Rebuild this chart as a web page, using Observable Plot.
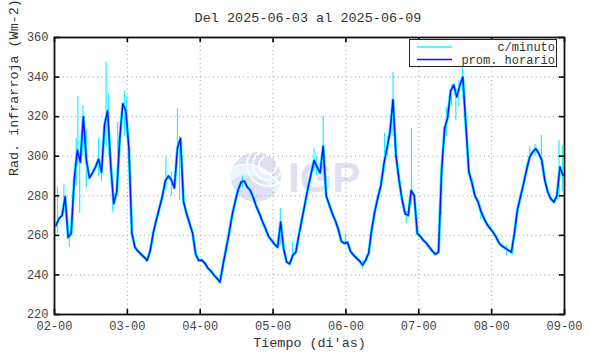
<!DOCTYPE html>
<html><head><meta charset="utf-8">
<script src="https://cdn.jsdelivr.net/npm/d3@7"></script>
<script src="https://cdn.jsdelivr.net/npm/@observablehq/plot@0.6"></script>
<style>
body{margin:0;background:#fff;}
#title{width:590px;height:30px;box-sizing:border-box;padding-left:26px;padding-top:11px;line-height:15px;font:13.5px "Liberation Mono",monospace;text-align:center;color:#333;}
#chart{position:relative;width:590px;}
</style></head><body>
<div id="title">Del 2025-06-03 al 2025-06-09</div>
<div id="chart"></div>
<script>
// ---- data ----
const dayLabels = ["02-00","03-00","04-00","05-00","06-00","07-00","08-00","09-00"];
const yTickValues = [220,240,260,280,300,320,340,360];
// hourly means ("prom. horario"), one per hour starting 02-00
const hourly = [
 265,268.5,270,279.5,259,261,288,303,297,320,298,289,291.5,294.5,298.5,292,316,323,296,276,282,309,326.5,323,
 304,261,254,252,250.5,249,247.3,252,261,267.5,273.5,279.5,287.5,290,288,284,304,309,277,271,266,261,250.5,247.3,
 247.5,246,243.5,242,240,238.3,236.4,245,253,261,270,277,283,287,287.5,284.4,282.7,279,274.5,271,267,263.5,259.5,257.5,
 255.5,254,266.7,253,246.5,245.6,250,251.5,260,268,276,284,291,297.8,294.5,291.5,305,280,275.5,271,267.5,263,257,256,
 256.5,252,250,248.5,247,245,247.5,251,263,272,279,285,296,304,312,328.5,300,288,278,271,270,282.7,280,261,
 259.5,257.5,256,254,252,250.5,251.5,292,314,319.5,333,336,330,335.7,340,316,292,286.5,280,277,272,268.5,265.5,263.5,
 261.5,259,256,254.5,253.5,252.5,251.5,261,273,279.5,286,293,299.5,302,303.8,301.5,298,288,281.8,278.5,276.8,280,294.5,290.3
];
// per-minute ("c/minuto") excursions: hour, low, high
const spikeHour = [1.0,3.1,4.9,7.2,7.7,8.3,9.4,10.5,14.5,15.5,17.0,17.8,19.1,20.8,23.1,23.7,
 36.7,38.5,40.5,41.2,61.9,74.4,78.4,85.5,86.3,88.5,95.8,101.5,108.7,109.7,111.5,115.9,117.6,127.5,
 129.1,130.8,132.2,133.2,134.4,137.8,140.4,148.9,151,156.5,158.3,160.4,165.6,166.2,167.3];
const spikeLow = [261,272,254,285,295,271,300,284,290,287,305,300,271.7,280,310,313,
 283,280,300,277.6,284,255,248,292,290,290,255,243,292,300,310,266,275,270,
 310,325,318,325,330,283,268,249.8,250,298,300,295,277.6,278,282];
const spikeHigh = [284.4,286,262,309,330,298,325.6,313,309,295,347.5,331.6,280,317,333,330,
 299.5,292,324,310,290,273.4,256.6,304,300,320,260.5,247,311.5,310,342.5,272,314,300,
 324.8,336,334,338,345,289,275,255,258,304.6,306,310.5,283,308,305];
const seriesNames = ["c/minuto","prom. horario"];
const seriesColors = ["#22eeff","#0a14ff"];

// ---- tables ----
const rows = hourly.map((v,i)=>({t:i+0.5, v}));
const spikes = spikeHour.map((h,i)=>({t:h, lo:spikeLow[i], hi:spikeHigh[i]}));
const xTicks = dayLabels.map((d,i)=>i*24);

const tickStyle = {stroke:"#000", strokeWidth:1.6};
const chart = Plot.plot({
  width:590, height:324,
  marginLeft:54, marginRight:26, marginTop:7, marginBottom:40,
  style:{fontFamily:'"Liberation Mono", monospace', fontSize:"12px", color:"#333", background:"#fff", overflow:"visible"},
  x:{domain:[0,168], axis:null},
  y:{domain:[220,360], axis:null},
  marks:[
    Plot.gridX(xTicks,{stroke:"#999", strokeOpacity:1, strokeDasharray:"1,3.3"}),
    Plot.gridY(yTickValues,{stroke:"#999", strokeOpacity:1, strokeDasharray:"1,3.3"}),
    Plot.ruleX(spikes,{x:"t", y1:"lo", y2:"hi", stroke:seriesColors[0], strokeWidth:1.2}),
    Plot.line(rows,{x:"t", y:"v", stroke:seriesColors[0], strokeWidth:3}),
    Plot.line(rows,{x:"t", y:"v", stroke:seriesColors[1], strokeWidth:1.5}),
    Plot.ruleX(xTicks,{y1:220, y2:222.6, ...tickStyle}),
    Plot.ruleX(xTicks,{y1:357.4, y2:360, ...tickStyle}),
    Plot.ruleY(yTickValues,{x1:0, x2:1.7, ...tickStyle}),
    Plot.ruleY(yTickValues,{x1:166.3, x2:168, ...tickStyle}),
    Plot.frame({stroke:"#111", strokeWidth:1.8}),
    Plot.axisX(xTicks,{tickSize:0, tickPadding:7, tickFormat:d=>dayLabels[d/24], label:null, fill:"#444"}),
    Plot.axisY(yTickValues,{tickSize:0, tickPadding:6, label:null, fill:"#444"}),
    Plot.text(["Tiempo (di'as)"],{frameAnchor:"bottom", dy:32, fontSize:13.4, fill:"#333"}),
    Plot.text(["Rad. infrarroja (Wm-2)"],{frameAnchor:"left", rotate:-90, dx:-41, fontSize:13.4, fill:"#333", ariaLabel:"ylabel"})
  ]
});
document.getElementById("chart").appendChild(chart);

const svg = d3.select(chart);
// superscript in y label
const yl = svg.select('g[aria-label="ylabel"] text');
yl.text(null);
yl.append("tspan").text("Rad. infrarroja (Wm");
yl.append("tspan").attr("font-size","9.5px").attr("dy","-5").text("-2");
yl.append("tspan").attr("dy","5").text(")");

// watermark (IGP logo) behind data
const wm = svg.insert("g","g").attr("pointer-events","none");
const cx=256, cy=147, r=25;
wm.append("clipPath").attr("id","wmclip").append("circle").attr("cx",cx).attr("cy",cy).attr("r",r);
wm.append("circle").attr("cx",cx).attr("cy",cy).attr("r",r).attr("fill","#e0e0f4");
const inner = wm.append("g").attr("clip-path","url(#wmclip)");
inner.append("path").attr("d",`M${cx-30},${cy+2} Q${cx},${cy-22} ${cx+30},${cy+22}`).attr("fill","none").attr("stroke","#e8f3fd").attr("stroke-width",10);
[9,15,21].forEach(rr=>inner.append("circle").attr("cx",cx+12).attr("cy",cy-12).attr("r",rr).attr("fill","none").attr("stroke","#fff").attr("stroke-width",1.6));
inner.append("path").attr("d",`M${cx-30},${cy-6} Q${cx},${cy-26} ${cx+30},${cy+14}`).attr("fill","none").attr("stroke","#fff").attr("stroke-width",1.6);
wm.append("text").attr("x",288).attr("y",162).attr("text-anchor","start").style("font-family","Liberation Sans, Arial, sans-serif").style("font-weight","bold").style("font-size","42px").style("fill","#e0e0f4").text("IGP");

// legend
const lg = svg.append("g");
lg.append("rect").attr("x",409.5).attr("y",9.5).attr("width",147).attr("height",27).attr("fill","#fff").attr("stroke","#222").attr("stroke-width",1);
seriesNames.forEach((name,i)=>{
  const yy = 17 + i*12.5;
  lg.append("line").attr("x1",417).attr("x2",452).attr("y1",yy).attr("y2",yy).attr("stroke",seriesColors[i]).attr("stroke-width",1.3);
  lg.append("text").attr("x",555).attr("y",yy).attr("dy","0.35em").attr("text-anchor","end")
    .attr("font-family",'"Liberation Mono", monospace').attr("font-size",12).attr("fill","#333").text(name);
});
</script>
</body></html>
